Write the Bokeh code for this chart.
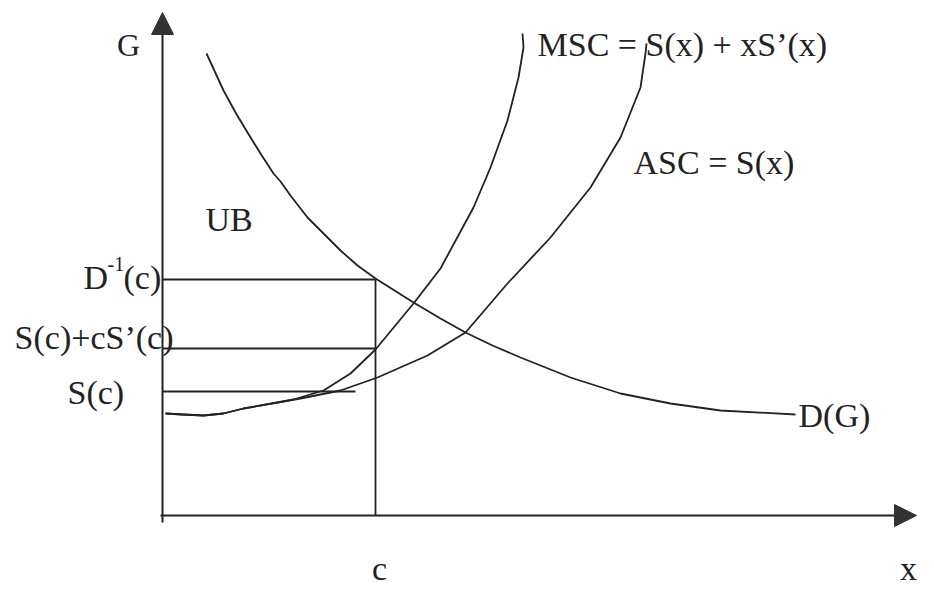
from bokeh.plotting import figure
from bokeh.models import Range1d, Arrow, NormalHead, Label
from bokeh.embed import file_html
from bokeh.resources import INLINE

# ---- data (arbitrary units, origin at axes corner) ----
# Demand curve D(G)
d_x = [44, 61, 73, 85, 98, 111, 118, 128, 145, 158, 178, 195, 213, 251, 278, 303, 330, 358, 408, 458, 508, 558, 633]
d_y = [462, 425, 403, 383, 362, 342, 334, 320, 298, 285, 265, 250, 237, 213, 197, 183, 170, 158, 138, 122, 112, 105, 101]
# Marginal social cost MSC = S(x) + xS'(x)
msc_x = [3, 20, 41, 61, 81, 115, 131, 161, 188, 213, 251, 278, 311, 328, 345, 356, 361, 360]
msc_y = [102, 101, 100, 102, 107, 113, 116, 125, 142, 166, 212, 247, 308, 348, 395, 438, 468, 482]
# Average social cost ASC = S(x)
asc_x = [3, 20, 41, 61, 81, 115, 138, 178, 215, 265, 303, 345, 388, 428, 458, 478, 483, 484]
asc_y = [102, 101, 100, 102, 107, 113, 117, 125, 138, 160, 183, 232, 278, 328, 378, 428, 462, 472]
# Levels at x = c
c_val = 213
d_inv_c = 236
msc_c = 167
s_c = 124
s_c_end = 193

FONT = "Liberation Serif"
INK = "#222222"

p = figure(width=918, height=589, output_backend="svg", toolbar_location=None,
           x_range=Range1d(-162, 756), y_range=Range1d(-74, 515),
           x_axis_type=None, y_axis_type=None, min_border=0,
           outline_line_color=None, background_fill_color="white")

# axes with arrowheads
p.add_layout(Arrow(end=NormalHead(size=22, fill_color="#333333", line_color="#333333"),
                   x_start=0, y_start=-7, x_end=0, y_end=503,
                   line_width=2, line_color=INK))
p.add_layout(Arrow(end=NormalHead(size=22, fill_color="#333333", line_color="#333333"),
                   x_start=-2, y_start=0, x_end=754, y_end=0,
                   line_width=2, line_color=INK))

# curves
p.line(d_x, d_y, line_width=1.8, line_color=INK, line_join="round")
p.line(msc_x, msc_y, line_width=1.8, line_color=INK, line_join="round")
p.line(asc_x, asc_y, line_width=1.8, line_color=INK, line_join="round")

# guide lines
p.segment(x0=[0, 0, 0], y0=[d_inv_c, msc_c, s_c],
          x1=[c_val, c_val, s_c_end], y1=[d_inv_c, msc_c, s_c],
          line_width=1.8, line_color=INK)
p.segment(x0=[c_val], y0=[0], x1=[c_val], y1=[d_inv_c], line_width=1.8, line_color=INK)

def lab(x, y, t, size=34, align="left"):
    p.add_layout(Label(x=x, y=y + 13, text=t, text_font=FONT, text_font_size=f"{size}px",
                       text_color=INK, text_align=align, text_baseline="alphabetic"))

lab(-34, 458, "G", size=32, align="center")
lab(375, 458, "MSC = S(x) + xS\u2019(x)")
lab(471, 340, "ASC = S(x)")
lab(636, 87, "D(G)")
lab(746, -66, "x", align="center")
lab(c_val + 4, -66, "c", align="center")
lab(43, 283, "UB")
lab(-79, 225, "D")
lab(-55, 239, "-1", size=20)
lab(-39, 225, "(c)")
lab(11, 165, "S(c)+cS\u2019(c)", align="right")
lab(-95, 110, "S(c)")

open("out.html", "w").write(file_html(p, INLINE))
